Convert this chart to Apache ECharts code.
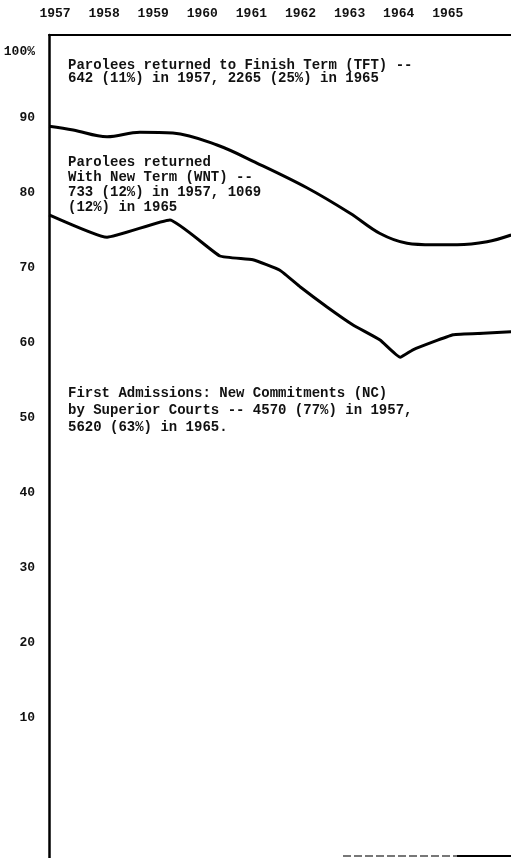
<!DOCTYPE html>
<html>
<head>
<meta charset="utf-8">
<script src="https://cdn.jsdelivr.net/npm/echarts@6/dist/echarts.min.js"></script>
<style>
  html, body { margin: 0; padding: 0; background: #fff; }
  #chart { width: 511px; height: 858px; }
</style>
</head>
<body>
<div id="chart"></div>
<script>
// year ticks across the top, percent ticks on the left
var yearTicks = [1957, 1958, 1959, 1960, 1961, 1962, 1963, 1964, 1965];
var pctTicks = [10, 20, 30, 40, 50, 60, 70, 80, 90, 100];

// upper boundary: 100 - TFT share
var tftYears  = [1956.88, 1957.37, 1958.06, 1958.73, 1959.4, 1960.3, 1961.11, 1962.13, 1963.01, 1963.62, 1964.17, 1964.7, 1965.19, 1965.8, 1966.29];
var tftValues = [88.9, 88.4, 87.5, 88.1, 88.0, 86.4, 84.0, 80.7, 77.3, 74.6, 73.3, 73.1, 73.1, 73.5, 74.4];

// lower boundary: NC share
var ncYears  = [1956.88, 1958.06, 1959.34, 1960.36, 1961.03, 1961.58, 1961.99, 1962.54, 1963.07, 1963.62, 1964.03, 1964.29, 1965.11, 1965.72, 1966.29];
var ncValues = [77.1, 74.1, 76.4, 71.6, 71.1, 69.7, 67.5, 64.8, 62.4, 60.4, 58.1, 59.1, 61.1, 61.3, 61.5];

var pair = function (xs, ys) {
    var res = [];
    xs.forEach(function (x, i) { res.push([x, ys[i]]); });
    return res;
};

var FONT = '"Liberation Mono", "DejaVu Sans Mono", monospace';

var myChart = echarts.init(document.getElementById('chart'));

var option = {
    backgroundColor: '#fff',
    animation: false,
    grid: { left: 49, right: 0, top: 35, bottom: 0 },
    xAxis: {
        type: 'value',
        position: 'top',
        min: 1956.878,
        max: 1966.287,
        axisLine: { show: true, onZero: false, lineStyle: { color: '#000', width: 2 } },
        axisTick: { show: false },
        splitLine: { show: false },
        axisLabel: {
            customValues: yearTicks,
            margin: 15,
            color: '#111',
            fontFamily: FONT,
            fontSize: 13,
            fontWeight: 'bold',
            formatter: function (v) { return String(v); }
        }
    },
    yAxis: {
        type: 'value',
        min: -8.667,
        max: 101.07,
        axisLine: { show: true, onZero: false, lineStyle: { color: '#000', width: 2.5 } },
        axisTick: { show: false },
        splitLine: { show: false },
        axisLabel: {
            customValues: pctTicks,
            margin: 14,
            color: '#111',
            fontFamily: FONT,
            fontSize: 13,
            fontWeight: 'bold',
            formatter: function (v) {
                return v === 100 ? '{p|100%}' : String(v);
            },
            rich: {
                p: { padding: [18, 0, 0, 0], fontFamily: FONT, fontSize: 13, fontWeight: 'bold', color: '#111' }
            }
        }
    },
    series: [
        {
            name: 'TFT',
            type: 'line',
            data: pair(tftYears, tftValues),
            smooth: 0.35,
            symbol: 'none',
            lineStyle: { color: '#000', width: 3 }
        },
        {
            name: 'NC',
            type: 'line',
            data: pair(ncYears, ncValues),
            smooth: 0.12,
            symbol: 'none',
            lineStyle: { color: '#000', width: 3 }
        }
    ],
    graphic: [
        {
            type: 'text', left: 68, top: 58,
            style: {
                text: 'Parolees returned to Finish Term (TFT) --\n642 (11%) in 1957, 2265 (25%) in 1965',
                font: 'bold 14px ' + FONT, lineHeight: 13, fill: '#111'
            }
        },
        {
            type: 'text', left: 68, top: 155,
            style: {
                text: 'Parolees returned\nWith New Term (WNT) --\n733 (12%) in 1957, 1069\n(12%) in 1965',
                font: 'bold 14px ' + FONT, lineHeight: 15, fill: '#111'
            }
        },
        {
            type: 'text', left: 68, top: 385,
            style: {
                text: 'First Admissions: New Commitments (NC)\nby Superior Courts -- 4570 (77%) in 1957,\n5620 (63%) in 1965.',
                font: 'bold 14px ' + FONT, lineHeight: 17, fill: '#111'
            }
        },
        {
            type: 'line',
            shape: { x1: 343, y1: 856, x2: 457, y2: 856 },
            style: { stroke: '#777', lineWidth: 2, lineDash: [8, 3] }
        },
        {
            type: 'line',
            shape: { x1: 457, y1: 856, x2: 511, y2: 856 },
            style: { stroke: '#000', lineWidth: 2 }
        }
    ]
};

myChart.setOption(option);
</script>
</body>
</html>
